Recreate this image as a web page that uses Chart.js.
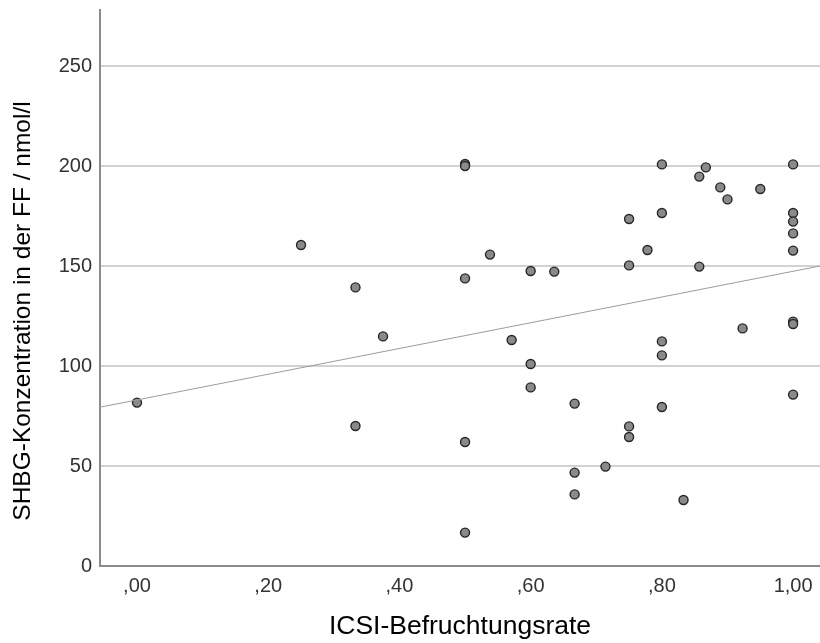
<!DOCTYPE html>
<html>
  <head>
    <meta charset="utf-8">
    <title>SHBG / ICSI-Befruchtungsrate</title>
    <script src="https://cdn.jsdelivr.net/npm/chart.js@4.4.0/dist/chart.umd.min.js"></script>
    <style>
      html, body { margin: 0; padding: 0; background: #fff; }
    </style>
  </head>
  <body>
    <canvas id="scatter" width="820" height="643"></canvas>

    <script type="text/javascript">
    // fertilisation rate per cycle and SHBG in follicular fluid
    var rate = [0.00, 0.25, 0.333, 0.333, 0.375, 0.5, 0.5, 0.5, 0.5, 0.5,
                0.538, 0.571, 0.6, 0.6, 0.6, 0.636, 0.667, 0.667, 0.667, 0.714,
                0.75, 0.75, 0.75, 0.75, 0.778, 0.8, 0.8, 0.8, 0.8, 0.8,
                0.833, 0.857, 0.857, 0.867, 0.889, 0.9, 0.923, 0.95,
                1.0, 1.0, 1.0, 1.0, 1.0, 1.0, 1.0, 1.0]
    var shbg = [81.7, 160.5, 139.3, 70.0, 114.8, 201.0, 200.0, 143.8, 62.0, 16.7,
                155.7, 113.0, 147.5, 101.0, 89.3, 147.2, 81.2, 46.7, 35.8, 49.7,
                173.5, 150.3, 69.8, 64.5, 158.0, 200.8, 176.5, 112.3, 105.3, 79.5,
                33.0, 194.7, 149.7, 199.3, 189.3, 183.3, 118.8, 188.5,
                200.8, 176.5, 172.2, 166.3, 157.7, 122.2, 121.0, 85.7]

    // linear fit, ends at the axis limits
    var fitX = [-0.0564, 1.041]
    var fitY = [79.4, 150.0]

    var xTicks = [0, 0.2, 0.4, 0.6, 0.8, 1.0]
    var yTicks = [0, 50, 100, 150, 200, 250]

    var xTitle = "ICSI-Befruchtungsrate"
    var yTitle = "SHBG-Konzentration in der FF / nmol/l"

    var fontFamily = '"Liberation Sans", Arial, sans-serif'

    function points(xs, ys) {
      return xs.map(function(x, i) { return {x: x, y: ys[i]} })
    }

    // ,00 ,20 ... 1,00
    function fmt(v) {
      return v.toFixed(2).replace('.', ',').replace(/^0,/, ',')
    }

    var yTitlePlugin = {
      id: 'yTitle',
      afterDraw: function(chart) {
        var ctx = chart.ctx
        ctx.save()
        ctx.translate(23, 311)
        ctx.rotate(-Math.PI / 2)
        ctx.font = '24.5px ' + fontFamily
        ctx.fillStyle = '#000'
        ctx.textAlign = 'center'
        ctx.textBaseline = 'middle'
        ctx.fillText(yTitle, 0, 0)
        ctx.restore()
      }
    }

    // keep the plot box fixed: no extra room for overhanging tick labels
    function noOverhang(scale) {
      scale.paddingTop = 0
      scale.paddingBottom = 0
      scale.paddingLeft = 0
      scale.paddingRight = 0
    }

    var chart = new Chart(document.getElementById('scatter'), {
      type: 'scatter',
      data: {
        datasets: [
          {
            label: 'Fit',
            data: points(fitX, fitY),
            showLine: true,
            borderColor: '#9c9c9c',
            borderWidth: 1,
            pointRadius: 0,
            fill: false
          },
          {
            label: 'SHBG',
            data: points(rate, shbg),
            pointRadius: 4.5,
            pointBackgroundColor: '#8a8a8a',
            pointBorderColor: '#262626',
            pointBorderWidth: 1.4
          }
        ]
      },
      options: {
        responsive: false,
        animation: false,
        layout: {
          autoPadding: false,
          padding: { top: 10, right: 0, left: 0, bottom: 0 }
        },
        plugins: {
          legend: { display: false },
          tooltip: { enabled: false }
        },
        scales: {
          x: {
            type: 'linear',
            min: -0.0564,
            max: 1.041,
            afterBuildTicks: function(scale) {
              scale.ticks = xTicks.map(function(v) { return {value: v} })
            },
            afterFit: function(scale) {
              scale.height = 77
              noOverhang(scale)
            },
            grid: { display: false, drawTicks: false },
            border: { display: true, color: '#8c8c8c', width: 2 },
            ticks: {
              padding: 8,
              color: '#333',
              font: { family: fontFamily, size: 20 },
              maxRotation: 0,
              callback: function(v) { return fmt(v) }
            },
            title: {
              display: true,
              text: xTitle,
              color: '#000',
              font: { family: fontFamily, size: 26.5 },
              padding: { top: 0, bottom: 0 }
            }
          },
          y: {
            min: 0,
            max: 278,
            afterBuildTicks: function(scale) {
              scale.ticks = yTicks.map(function(v) { return {value: v} })
            },
            afterFit: function(scale) {
              scale.width = 100
              noOverhang(scale)
            },
            grid: { color: '#d2d2d2', lineWidth: 2, drawTicks: false },
            border: { display: true, color: '#8c8c8c', width: 2 },
            ticks: {
              padding: 8,
              color: '#333',
              font: { family: fontFamily, size: 20 }
            }
          }
        }
      },
      plugins: [yTitlePlugin]
    });
    </script>
  </body>
</html>
